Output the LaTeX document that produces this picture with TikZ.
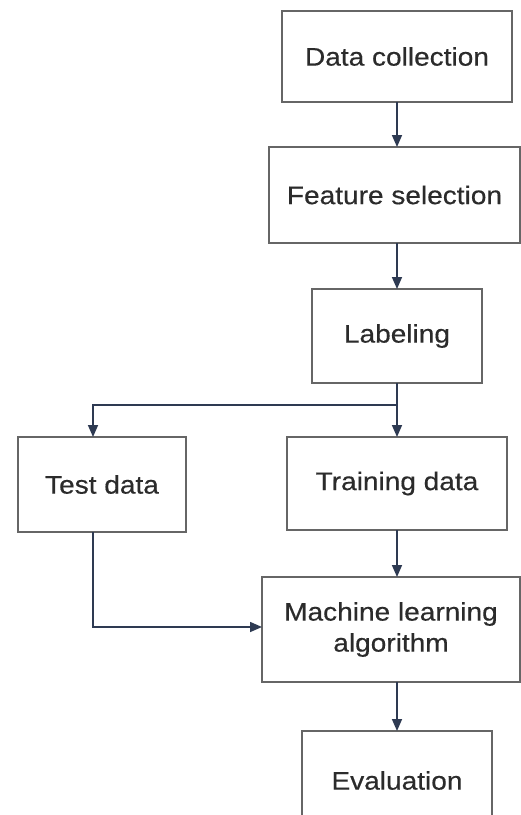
\documentclass[tikz,border=0pt]{standalone}
\usepackage{fontspec}
\setmainfont[FakeStretch=1.1,FakeBold=0.4]{Liberation Sans}
\usetikzlibrary{arrows.meta}
\definecolor{boxgray}{HTML}{666666}
\definecolor{textgray}{HTML}{2B2B2B}
\definecolor{arrowblue}{HTML}{2E3A52}
\begin{document}
\begin{tikzpicture}[x=1pt,y=-1pt,
  box/.style={draw=boxgray, line width=1.9pt, fill=white, inner sep=0pt, outer sep=0pt,
    align=center, text=textgray, font=\fontsize{25.5}{31}\selectfont},
  conn/.style={draw=arrowblue, line width=1.6pt, -{Triangle[length=12pt,width=10pt]}},
  plain/.style={draw=arrowblue, line width=1.6pt}]
\fill[white] (0,0) rectangle (521,815);
\useasboundingbox (0,0) rectangle (521,815);

\node[box, minimum width=230, minimum height=91] (dc) at (397,56.5) {Data collection};
\node[box, minimum width=251, minimum height=96] (fs) at (394.5,195) {Feature selection};
\node[box, minimum width=170, minimum height=94] (lab) at (397,336) {Labeling};
\node[box, minimum width=168, minimum height=95] (test) at (102,484.5) {Test data};
\node[box, minimum width=220, minimum height=93] (train) at (397,483.5) {Training data};
\node[box, minimum width=258, minimum height=105] (ml) at (391,629.5) {Machine learning\\algorithm};
\node[box, minimum width=190, minimum height=99] (eval) at (397,780.5) {Evaluation};

\coordinate (split) at (397,405);

\draw[conn] (dc.south) -- (dc.south |- fs.north);
\draw[conn] (lab.north |- fs.south) -- (lab.north);
\draw[conn] (lab.south) -- (train.north);
\draw[conn] (split) -| ([xshift=-9]test.north);
\draw[conn] (train.south) -- (train.south |- ml.north);
\draw[conn] ([xshift=-9]test.south) |- ([yshift=2.5]ml.west);
\draw[conn] (eval.north |- ml.south) -- (eval.north);
\end{tikzpicture}
\end{document}
